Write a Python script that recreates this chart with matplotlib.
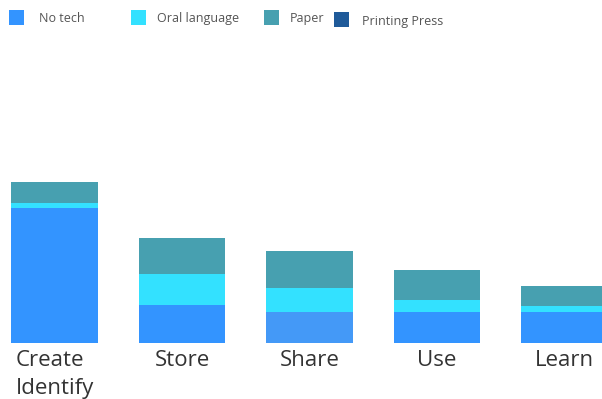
import matplotlib
matplotlib.use("Agg")
import matplotlib.pyplot as plt
from matplotlib.patches import Rectangle

# -- Data ----------------------------------------------------------------------
categories = ["Create\nIdentify", "Store", "Share", "Use", "Learn"]
series_names = ["No tech", "Oral language", "Paper", "Printing Press"]
no_tech = [13.0, 3.7, 3.05, 3.05, 3.05]
oral_language = [0.52, 2.95, 2.28, 1.1, 0.52]
paper = [1.98, 3.52, 3.53, 2.94, 1.98]
printing_press = [0, 0, 0, 0, 0]

# -- Style ---------------------------------------------------------------------
COLORS = ["#3394ff", "#33e1ff", "#47a0b0", "#1f5a99"]
SHARE_NOTECH = "#4499f7"   # slightly lighter (highlighted) segment
FONT = ["Open Sans", "DejaVu Sans"]
plt.rcParams["font.family"] = FONT

W, H = 602, 399
fig = plt.figure(figsize=(W / 100, H / 100), dpi=100)
base_px = 343.3
ax = fig.add_axes([0, (H - base_px) / H, 1, base_px / H])

unit_x = 127.5
x0 = -54.6 / unit_x
ax.set_xlim(x0, x0 + W / unit_x)
ax.set_ylim(0, base_px / 10.4)

xs = list(range(len(categories)))
bar_w = 86.5 / unit_x
bottom = [0.0] * len(xs)
for name, vals, col in zip(series_names,
                           [no_tech, oral_language, paper, printing_press],
                           COLORS):
    bars = ax.bar(xs, vals, width=bar_w, bottom=bottom, color=col,
                  edgecolor="none", linewidth=0)
    if name == "No tech":
        bars[2].set_facecolor(SHARE_NOTECH)
    bottom = [b + v for b, v in zip(bottom, vals)]

for s in ax.spines.values():
    s.set_visible(False)
ax.set_yticks([])
ax.set_xticks(xs)
ax.set_xticklabels(categories, fontsize=16, color="#333333")
for lbl in ax.get_xticklabels():
    lbl.set_multialignment("left")
    lbl.set_linespacing(1.45)
ax.tick_params(axis="x", length=0, pad=5)

# -- Legend (hand placed in pixel coords) -------------------------------------
legend_sq = [(9, 10), (131, 10), (264, 10), (334, 12)]
legend_tx = [(39, 18.5), (157, 18.5), (290, 18.5), (362, 21)]
for name, col, (sx, sy), (tx, ty) in zip(series_names, COLORS,
                                          legend_sq, legend_tx):
    fig.add_artist(Rectangle((sx / W, 1 - (sy + 14.5) / H), 14.5 / W, 14.5 / H,
                             transform=fig.transFigure, facecolor=col,
                             edgecolor="none"))
    fig.text(tx / W, 1 - ty / H, name, fontsize=9, color="#555555",
             ha="left", va="center")

fig.savefig("out.png", dpi=100, facecolor="white")
